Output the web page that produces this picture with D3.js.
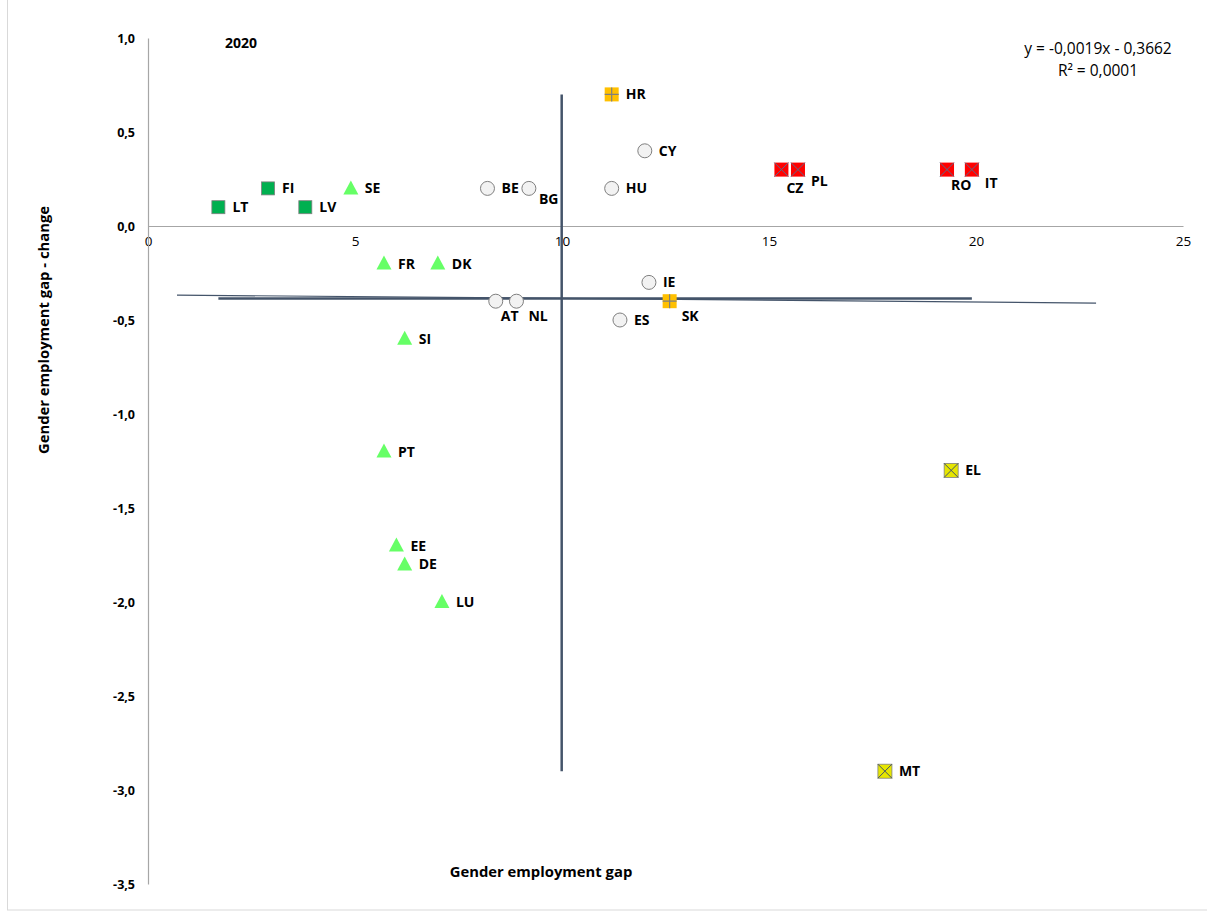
<!DOCTYPE html>
<html>
<head>
<meta charset="utf-8">
<script src="https://cdn.jsdelivr.net/npm/d3@7"></script>
<style>
  html, body { margin: 0; padding: 0; background: #fff; }
  svg { display: block; }
  text { font-family: "Open Sans", Lato, sans-serif; }
</style>
</head>
<body>
<div id="chart"></div>
<script>
// ---- data ----
const countries = ["LT","FI","LV","SE","FR","DK","SI","PT","EE","DE","LU","BE","BG","HU","CY","HR","AT","NL","IE","ES","SK","CZ","PL","RO","IT","EL","MT"];
const gapValues = [1.7,2.9,3.8,4.9,5.7,7.0,6.2,5.7,6.0,6.2,7.1,8.2,9.2,11.2,12.0,11.2,8.4,8.9,12.1,11.4,12.6,15.3,15.7,19.3,19.9,19.4,17.8];
const changeValues = [0.1,0.2,0.1,0.2,-0.2,-0.2,-0.6,-1.2,-1.7,-1.8,-2.0,0.2,0.2,0.2,0.4,0.7,-0.4,-0.4,-0.3,-0.5,-0.4,0.3,0.3,0.3,0.3,-1.3,-2.9];
const groups = ["gsq","gsq","gsq","tri","tri","tri","tri","tri","tri","tri","tri","circ","circ","circ","circ","plus","circ","circ","circ","circ","plus","rx","rx","rx","rx","yx","yx"];
const xTicks = [0,5,10,15,20,25];
const yTicks = [1.0,0.5,0.0,-0.5,-1.0,-1.5,-2.0,-2.5,-3.0,-3.5];
const trendSlope = -0.0019;
const trendIntercept = -0.3662;
const trendRange = [0.7, 22.9];
const yearLabel = "2020";
const equationLines = ["y = -0,0019x - 0,3662", "R² = 0,0001"];

// ---- layout ----
const W = 1207, H = 913;
const svg = d3.select("#chart").append("svg").attr("width", W).attr("height", H);

const x = d3.scaleLinear().domain([0, 25]).range([148, 1183]);
const y = d3.scaleLinear().domain([-3.5, 1.0]).range([884, 38]);

// outer frame
svg.append("rect").attr("x", 7.5).attr("y", -2).attr("width", W).attr("height", 912)
  .attr("fill", "none").attr("stroke", "#d9d9d9").attr("stroke-width", 1);

const fmt = v => d3.format(".1f")(v).replace(".", ",").replace("−", "-");

// x axis at y=0
const xAxis = svg.append("g").attr("transform", `translate(0,${y(0)})`)
  .call(d3.axisBottom(x).tickValues(xTicks).tickSize(0).tickPadding(10).tickFormat(d3.format("d")));
xAxis.select(".domain").attr("stroke", "#a6a6a6").attr("stroke-width", 1.2);
xAxis.selectAll("text").attr("font-size", 13.5).attr("fill", "#000").attr("font-family", "'Open Sans', sans-serif");

// y axis
const yAxis = svg.append("g").attr("transform", `translate(${x(0)},0)`)
  .call(d3.axisLeft(y).tickValues(yTicks).tickSize(0).tickPadding(13).tickFormat(fmt));
yAxis.select(".domain").attr("stroke", "#a6a6a6").attr("stroke-width", 1.2);
yAxis.selectAll("text").attr("font-size", 12.5).attr("font-weight", "bold").attr("fill", "#000").attr("font-family", "'Open Sans', sans-serif");

// mean lines
const meanX = d3.mean(gapValues), meanY = d3.mean(changeValues);
svg.append("line")
  .attr("x1", x(meanX)).attr("x2", x(meanX))
  .attr("y1", y(d3.max(changeValues))).attr("y2", y(d3.min(changeValues)))
  .attr("stroke", "#44546a").attr("stroke-width", 2.5);
svg.append("line")
  .attr("x1", x(d3.min(gapValues))).attr("x2", x(d3.max(gapValues)))
  .attr("y1", y(meanY)).attr("y2", y(meanY))
  .attr("stroke", "#44546a").attr("stroke-width", 2.5);

// trendline
svg.append("line")
  .attr("x1", x(trendRange[0])).attr("x2", x(trendRange[1]))
  .attr("y1", y(trendSlope * trendRange[0] + trendIntercept))
  .attr("y2", y(trendSlope * trendRange[1] + trendIntercept))
  .attr("stroke", "#44546a").attr("stroke-width", 1.2);

// label offsets (style, px)
const labelOffset = {
  BG: [10, 11], AT: [5, 15], NL: [12, 15], SK: [12, 15],
  CZ: [5, 18], PL: [13, 11], RO: [4, 15], IT: [13, 13]
};

const points = countries.map((c, i) => ({ c, gx: gapValues[i], gy: changeValues[i], g: groups[i] }));

const pg = svg.append("g");
points.forEach(p => {
  const cx = x(p.gx), cy = y(p.gy);
  const g = pg.append("g").attr("transform", `translate(${cx},${cy})`);
  if (p.g === "gsq") {
    g.append("rect").attr("x", -6.5).attr("y", -6.5).attr("width", 13).attr("height", 13)
      .attr("fill", "#00b050").attr("stroke", "#7f7f7f").attr("stroke-width", 0.8);
  } else if (p.g === "tri") {
    g.append("path").attr("d", "M0,-8 L7.5,6 L-7.5,6 Z").attr("fill", "#66ff66");
  } else if (p.g === "circ") {
    g.append("circle").attr("r", 7).attr("fill", "#f2f2f2").attr("stroke", "#7f7f7f").attr("stroke-width", 1);
  } else if (p.g === "plus") {
    g.append("rect").attr("x", -7).attr("y", -7).attr("width", 14).attr("height", 14).attr("fill", "#ffc000");
    g.append("path").attr("d", "M0,-7 V7 M-7,0 H7").attr("stroke", "#7f7f7f").attr("stroke-width", 1.2);
  } else if (p.g === "rx") {
    g.append("rect").attr("x", -7).attr("y", -7).attr("width", 14).attr("height", 14).attr("fill", "#ff0000");
    g.append("path").attr("d", "M-7,-7 L7,7 M7,-7 L-7,7").attr("stroke", "#5a6b8a").attr("stroke-width", 1);
  } else if (p.g === "yx") {
    g.append("rect").attr("x", -7).attr("y", -7).attr("width", 14).attr("height", 14)
      .attr("fill", "#e6e600").attr("stroke", "#7f7f7f").attr("stroke-width", 0.8);
    g.append("path").attr("d", "M-7,-7 L7,7 M7,-7 L-7,7").attr("stroke", "#44546a").attr("stroke-width", 1);
  }
  const off = labelOffset[p.c] || [14, 0];
  pg.append("text").attr("x", cx + off[0]).attr("y", cy + off[1]).attr("dy", "0.35em")
    .attr("font-size", 14).attr("font-weight", "bold").attr("fill", "#000").text(p.c);
});

// titles
svg.append("text").attr("x", 225).attr("y", 43).attr("dy", "0.35em")
  .attr("font-size", 14).attr("font-weight", "bold").text(yearLabel);

svg.append("text").attr("x", 541).attr("y", 872).attr("dy", "0.35em").attr("text-anchor", "middle")
  .attr("font-size", 14.8).attr("font-weight", "bold").text("Gender employment gap");

svg.append("text").attr("transform", "translate(44,330) rotate(-90)").attr("dy", "0.35em")
  .attr("text-anchor", "middle").attr("font-size", 14.8).attr("font-weight", "bold")
  .text("Gender employment gap - change");

// equation
svg.append("text").attr("x", 1098).attr("y", 49).attr("dy", "0.35em").attr("text-anchor", "middle")
  .attr("font-size", 15.5).text(equationLines[0]);
svg.append("text").attr("x", 1098).attr("y", 71).attr("dy", "0.35em").attr("text-anchor", "middle")
  .attr("font-size", 15.5).text(equationLines[1]);
</script>
</body>
</html>
